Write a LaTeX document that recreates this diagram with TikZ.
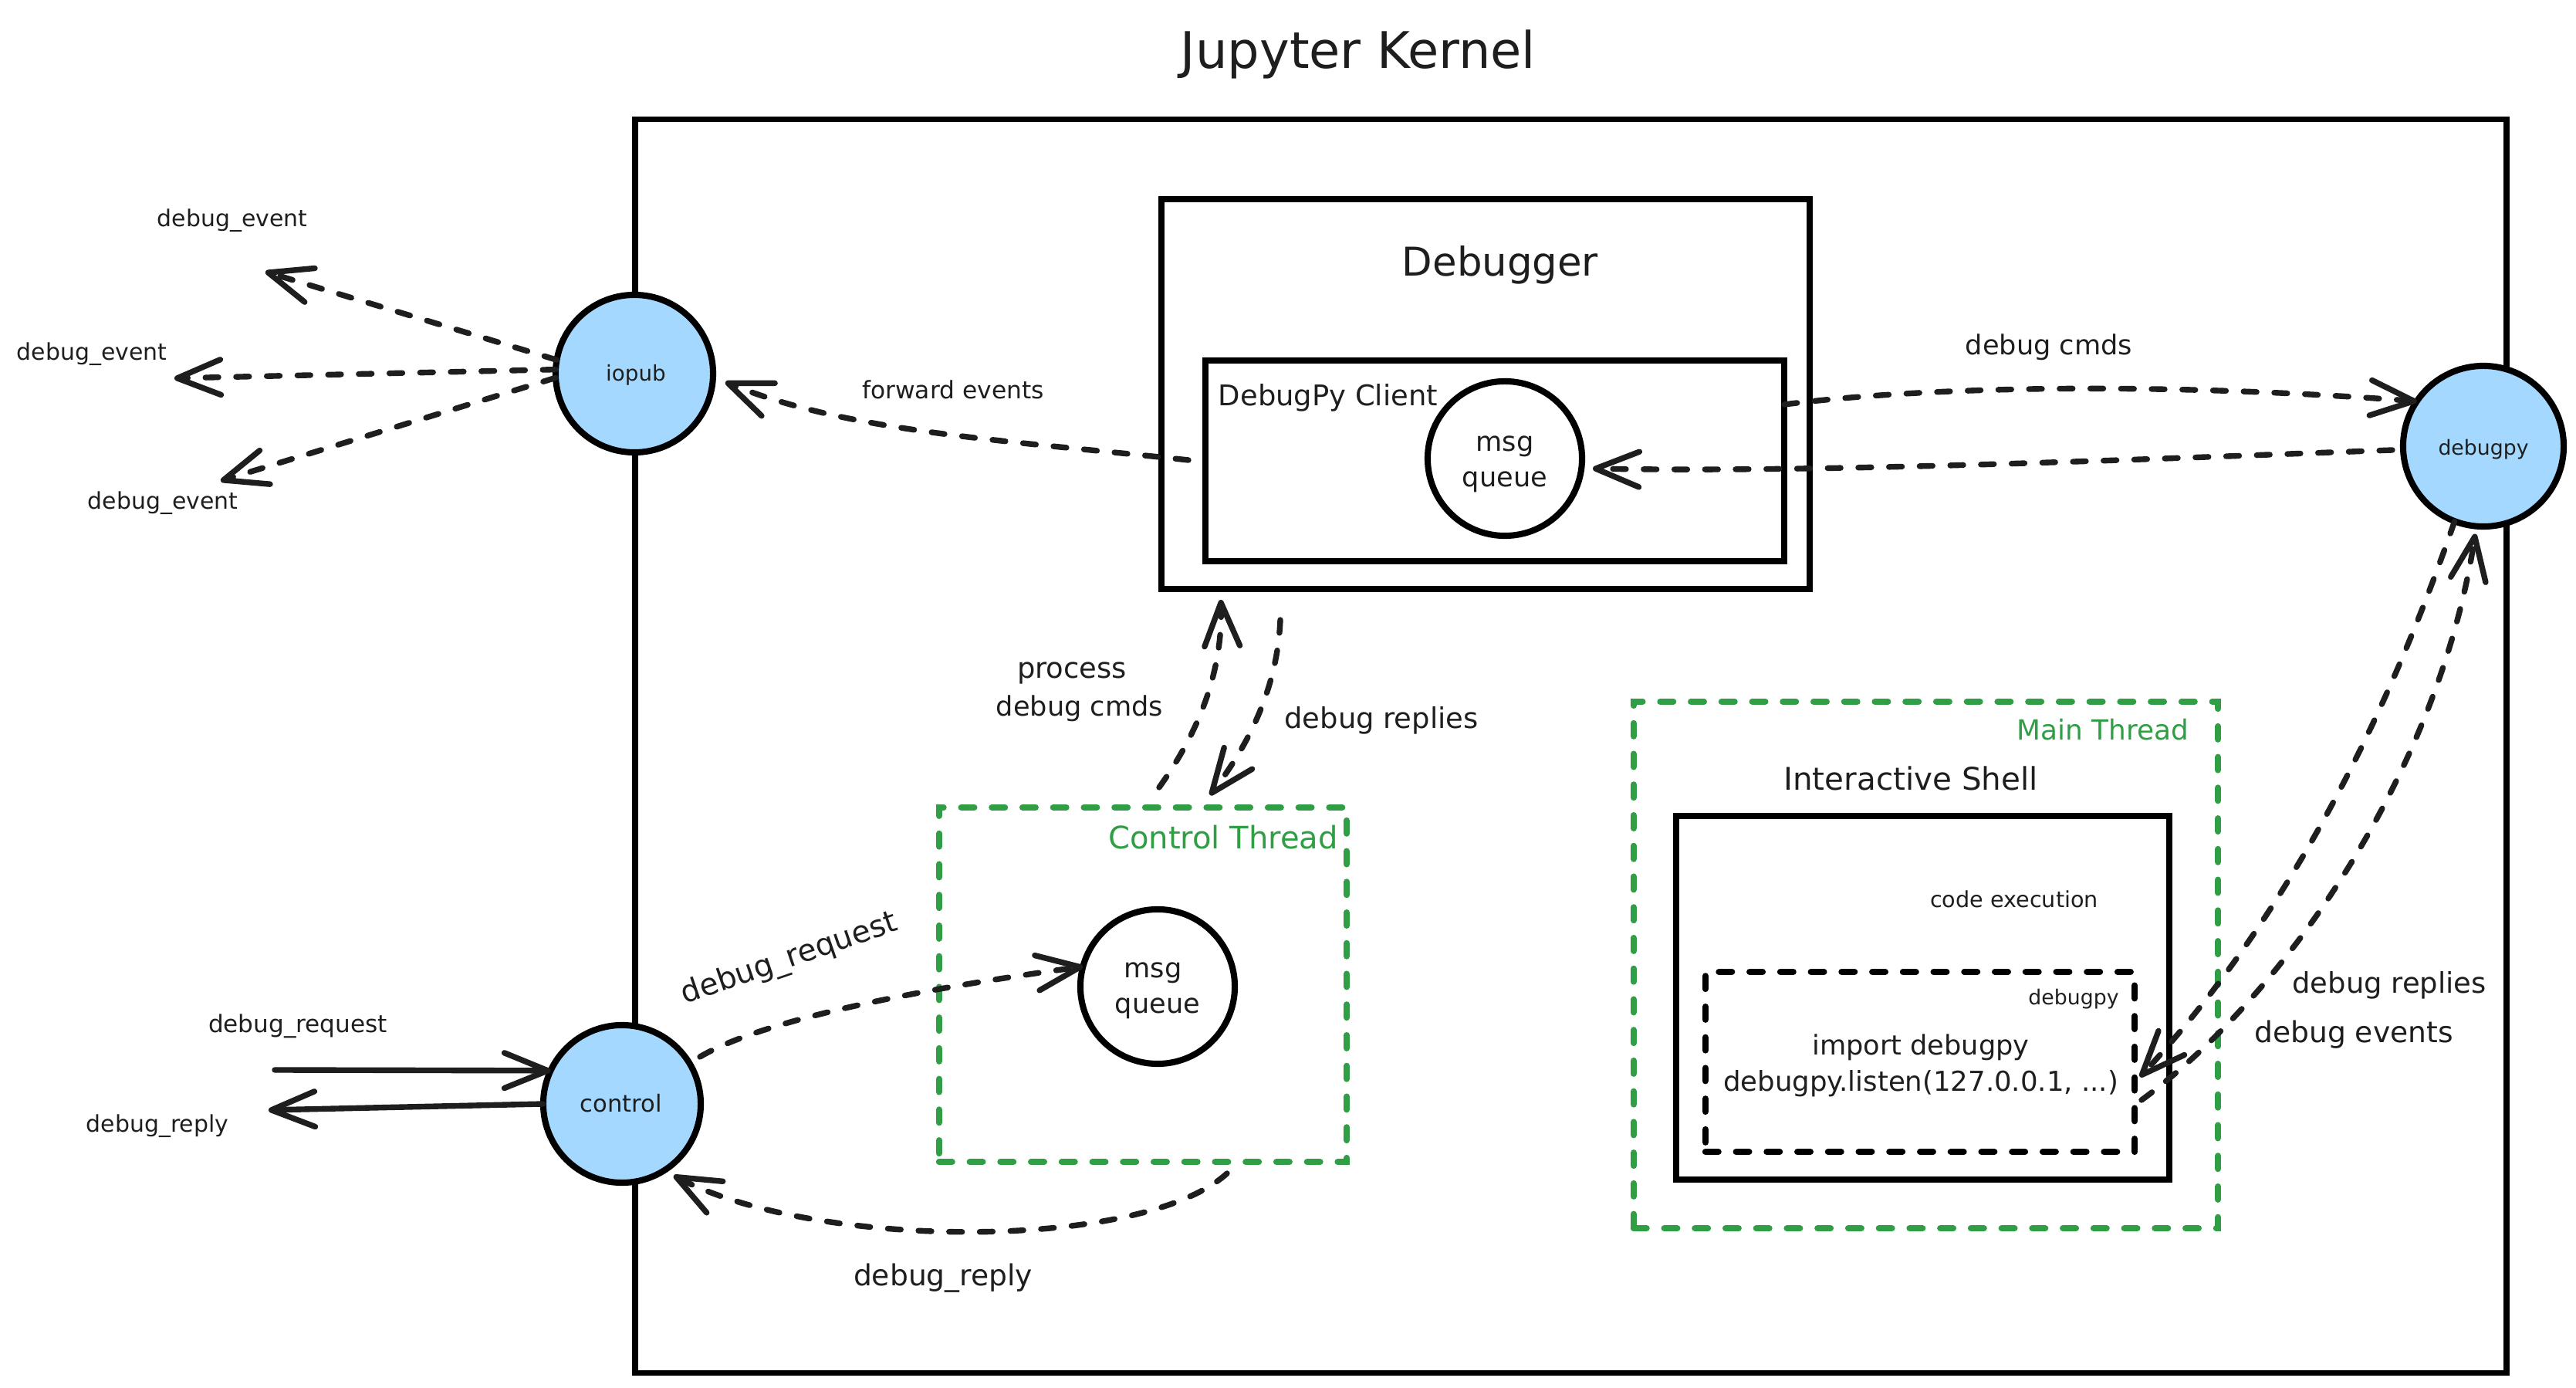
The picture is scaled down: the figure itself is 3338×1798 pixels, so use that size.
\documentclass[tikz,border=0pt]{standalone}
\usepackage{fontspec}
\setmainfont{DejaVu Sans}
\usetikzlibrary{arrows.meta}
\definecolor{exblue}{HTML}{A5D8FF}
\definecolor{exgreen}{HTML}{2F9E44}
\definecolor{ink}{HTML}{1E1E1E}
\newcommand\fsz[1]{\fontsize{#1}{#1}\selectfont}
\begin{document}
\begin{tikzpicture}[x=0.01cm,y=-0.01cm,
  panel/.style={rectangle, draw=black, line width=2.2pt, inner sep=0pt, outer sep=0pt},
  thread/.style={rectangle, draw=exgreen, line width=2.3pt, line cap=round, dash pattern=on 4.8pt off 6.5pt, inner sep=0pt, outer sep=0pt},
  dpanel/.style={rectangle, draw=black, line width=2.3pt, line cap=round, dash pattern=on 4.8pt off 6.5pt, inner sep=0pt, outer sep=0pt},
  bubble/.style={circle, draw=black, line width=2.3pt, fill=exblue, inner sep=0pt, outer sep=0pt, minimum size=2.04cm},
  qcircle/.style={circle, draw=black, line width=2.3pt, fill=white, inner sep=0pt, outer sep=0pt, minimum size=2cm},
  flow/.style={draw=ink, line width=2.1pt, line cap=round, dash pattern=on 4.8pt off 6.5pt, -{Straight Barb[length=16pt,width=13pt,round]}},
  solidflow/.style={draw=ink, line width=2.1pt, line cap=round, -{Straight Barb[length=16pt,width=13pt,round]}},
  txt/.style={inner sep=0pt, outer sep=0pt, text=ink},
  gtxt/.style={inner sep=0pt, outer sep=0pt, text=exgreen}
]
\useasboundingbox (0,0) rectangle (3338,1798);
\fill[white] (0,0) rectangle (3338,1798);

% containers
\node[panel, minimum width=24.23cm, minimum height=16.23cm] (kernel) at (2035.5,966.5) {};
\node[panel, minimum width=8.40cm, minimum height=5.05cm] (debugger) at (1925,510.5) {};
\node[panel, minimum width=7.50cm, minimum height=2.60cm] (client) at (1937,597) {};
\node[thread, minimum width=5.28cm, minimum height=4.59cm] (cthread) at (1481,1275.5) {};
\node[thread, minimum width=7.57cm, minimum height=6.82cm] (mthread) at (2495.5,1250) {};
\node[panel, minimum width=6.39cm, minimum height=4.71cm] (shell) at (2491.5,1292.5) {};
\node[dpanel, minimum width=5.56cm, minimum height=2.33cm] (dbgbox) at (2488,1375.5) {};

% circles
\node[bubble] (iopub) at (822,484) {};
\node[bubble, minimum size=2.08cm] (debugpy) at (3218,578) {};
\node[bubble] (control) at (806,1430) {};
\node[qcircle] (msgq1) at (1950,594) {};
\node[qcircle] (msgq2) at (1500,1278) {};

% free ends
\coordinate (ev1) at (344,352);
\coordinate (ev2) at (226,490);
\coordinate (ev3) at (286,623);
\coordinate (fwdS) at (1540,596);
\coordinate (fwdE) at (940,495);
\coordinate (cmdS) at (2312,524);
\coordinate (retS) at (3100,583);
\coordinate (retE) at (2064,607);
\coordinate (procS) at (1502,1020);
\coordinate (procE) at (1582,777);
\coordinate (repS) at (1659,803);
\coordinate (repE) at (1568,1030);
\coordinate (reqS) at (907,1369);
\coordinate (rplS) at (1590,1520);
\coordinate (rplE) at (873,1523);
\coordinate (inS) at (356,1386);
\coordinate (outE) at (348,1438);
\coordinate (shA) at (2773,1395);
\coordinate (shB) at (2775,1425);

% connectors
\draw[flow] (iopub.170) -- (ev1);
\draw[flow] (iopub.177) -- (ev2);
\draw[flow] (iopub.183) -- (ev3);
\draw[flow] (fwdS) .. controls (1300,570) and (1100,560) .. (fwdE);
\draw[flow] (cmdS) .. controls (2500,500) and (2800,495) .. (debugpy.146);
\draw[flow] (retS) .. controls (2700,598) and (2350,612) .. (retE);
\draw[flow] (procS) .. controls (1545,960) and (1585,880) .. (procE);
\draw[flow] (repS) .. controls (1655,900) and (1610,975) .. (repE);
\draw[flow] (reqS) .. controls (990,1320) and (1200,1280) .. (msgq2.165);
\draw[flow] (rplS) .. controls (1480,1620) and (1060,1620) .. (rplE);
\draw[solidflow] (inS) -- (control.155);
\draw[solidflow] (control.west) -- (outE);
\draw[flow] (debugpy.249) .. controls (3120,850) and (3000,1150) .. (shA);
\draw[flow, shorten >=0.1cm] (shB) .. controls (2960,1290) and (3160,1000) .. (debugpy.265);

% texts
\node[txt, font=\fsz{18.6}] (title) at (1760,70) {Jupyter Kernel};
\node[txt, font=\fsz{14.6}] (tdebugger) at (1944,343) {Debugger};
\node[txt, font=\fsz{10.5}] (tclient) at (1721,515) {DebugPy Client};
\node[txt, font=\fsz{10}] (tmsg1) at (1950,578) {msg};
\node[txt, font=\fsz{10}] (tque1) at (1950,624) {queue};
\node[txt, font=\fsz{10}] (tcmds) at (2655,450) {debug cmds};
\node[txt, font=\fsz{7.6}] (tdebugpy) at (3218,582) {debugpy};
\node[txt, font=\fsz{7.9}] (tiopub) at (824,486) {iopub};
\node[txt, font=\fsz{8.9}] (tfwd) at (1235,505) {forward events};
\node[txt, font=\fsz{8.5}] (tev1) at (301,286) {debug\_event};
\node[txt, font=\fsz{8.5}] (tev2) at (119,459) {debug\_event};
\node[txt, font=\fsz{8.5}] (tev3) at (211,652) {debug\_event};
\node[txt, font=\fsz{8.85}] (treqL) at (386,1329) {debug\_request};
\node[txt, font=\fsz{8.5}] (trplL) at (204,1459) {debug\_reply};
\node[txt, font=\fsz{8.7}] (tcontrol) at (805,1429) {control};
\node[txt, font=\fsz{11.2}, rotate=19] (treqR) at (1023,1243) {debug\_request};
\node[txt, font=\fsz{10}] (tmsg2) at (1494,1260) {msg};
\node[txt, font=\fsz{10}] (tque2) at (1500,1306) {queue};
\node[gtxt, font=\fsz{11.4}] (tcthread) at (1585,1085) {Control Thread};
\node[txt, font=\fsz{10.7}] (trplB) at (1222,1656) {debug\_reply};
\node[txt, font=\fsz{10.5}] (tproc) at (1389,872) {process};
\node[txt, font=\fsz{10}] (tproc2) at (1399,918) {debug cmds};
\node[txt, font=\fsz{10.5}] (treplM) at (1790,933) {debug replies};
\node[gtxt, font=\fsz{10.2}] (tmthread) at (2725,945) {Main Thread};
\node[txt, font=\fsz{11.5}] (tshell) at (2476,1008) {Interactive Shell};
\node[txt, font=\fsz{8.15}] (tcode) at (2610,1165) {code execution};
\node[txt, font=\fsz{7.6}] (tdbgsmall) at (2687,1294) {debugpy};
\node[txt, font=\fsz{10}] (timport) at (2489,1357) {import debugpy};
\node[txt, font=\fsz{10.1}] (tlisten) at (2489,1404) {debugpy.listen(127.0.0.1, ...)};
\node[txt, font=\fsz{10.5}] (treplR) at (3096,1276) {debug replies};
\node[txt, font=\fsz{10.7}] (teventsR) at (3050,1340) {debug events};
\end{tikzpicture}
\end{document}
